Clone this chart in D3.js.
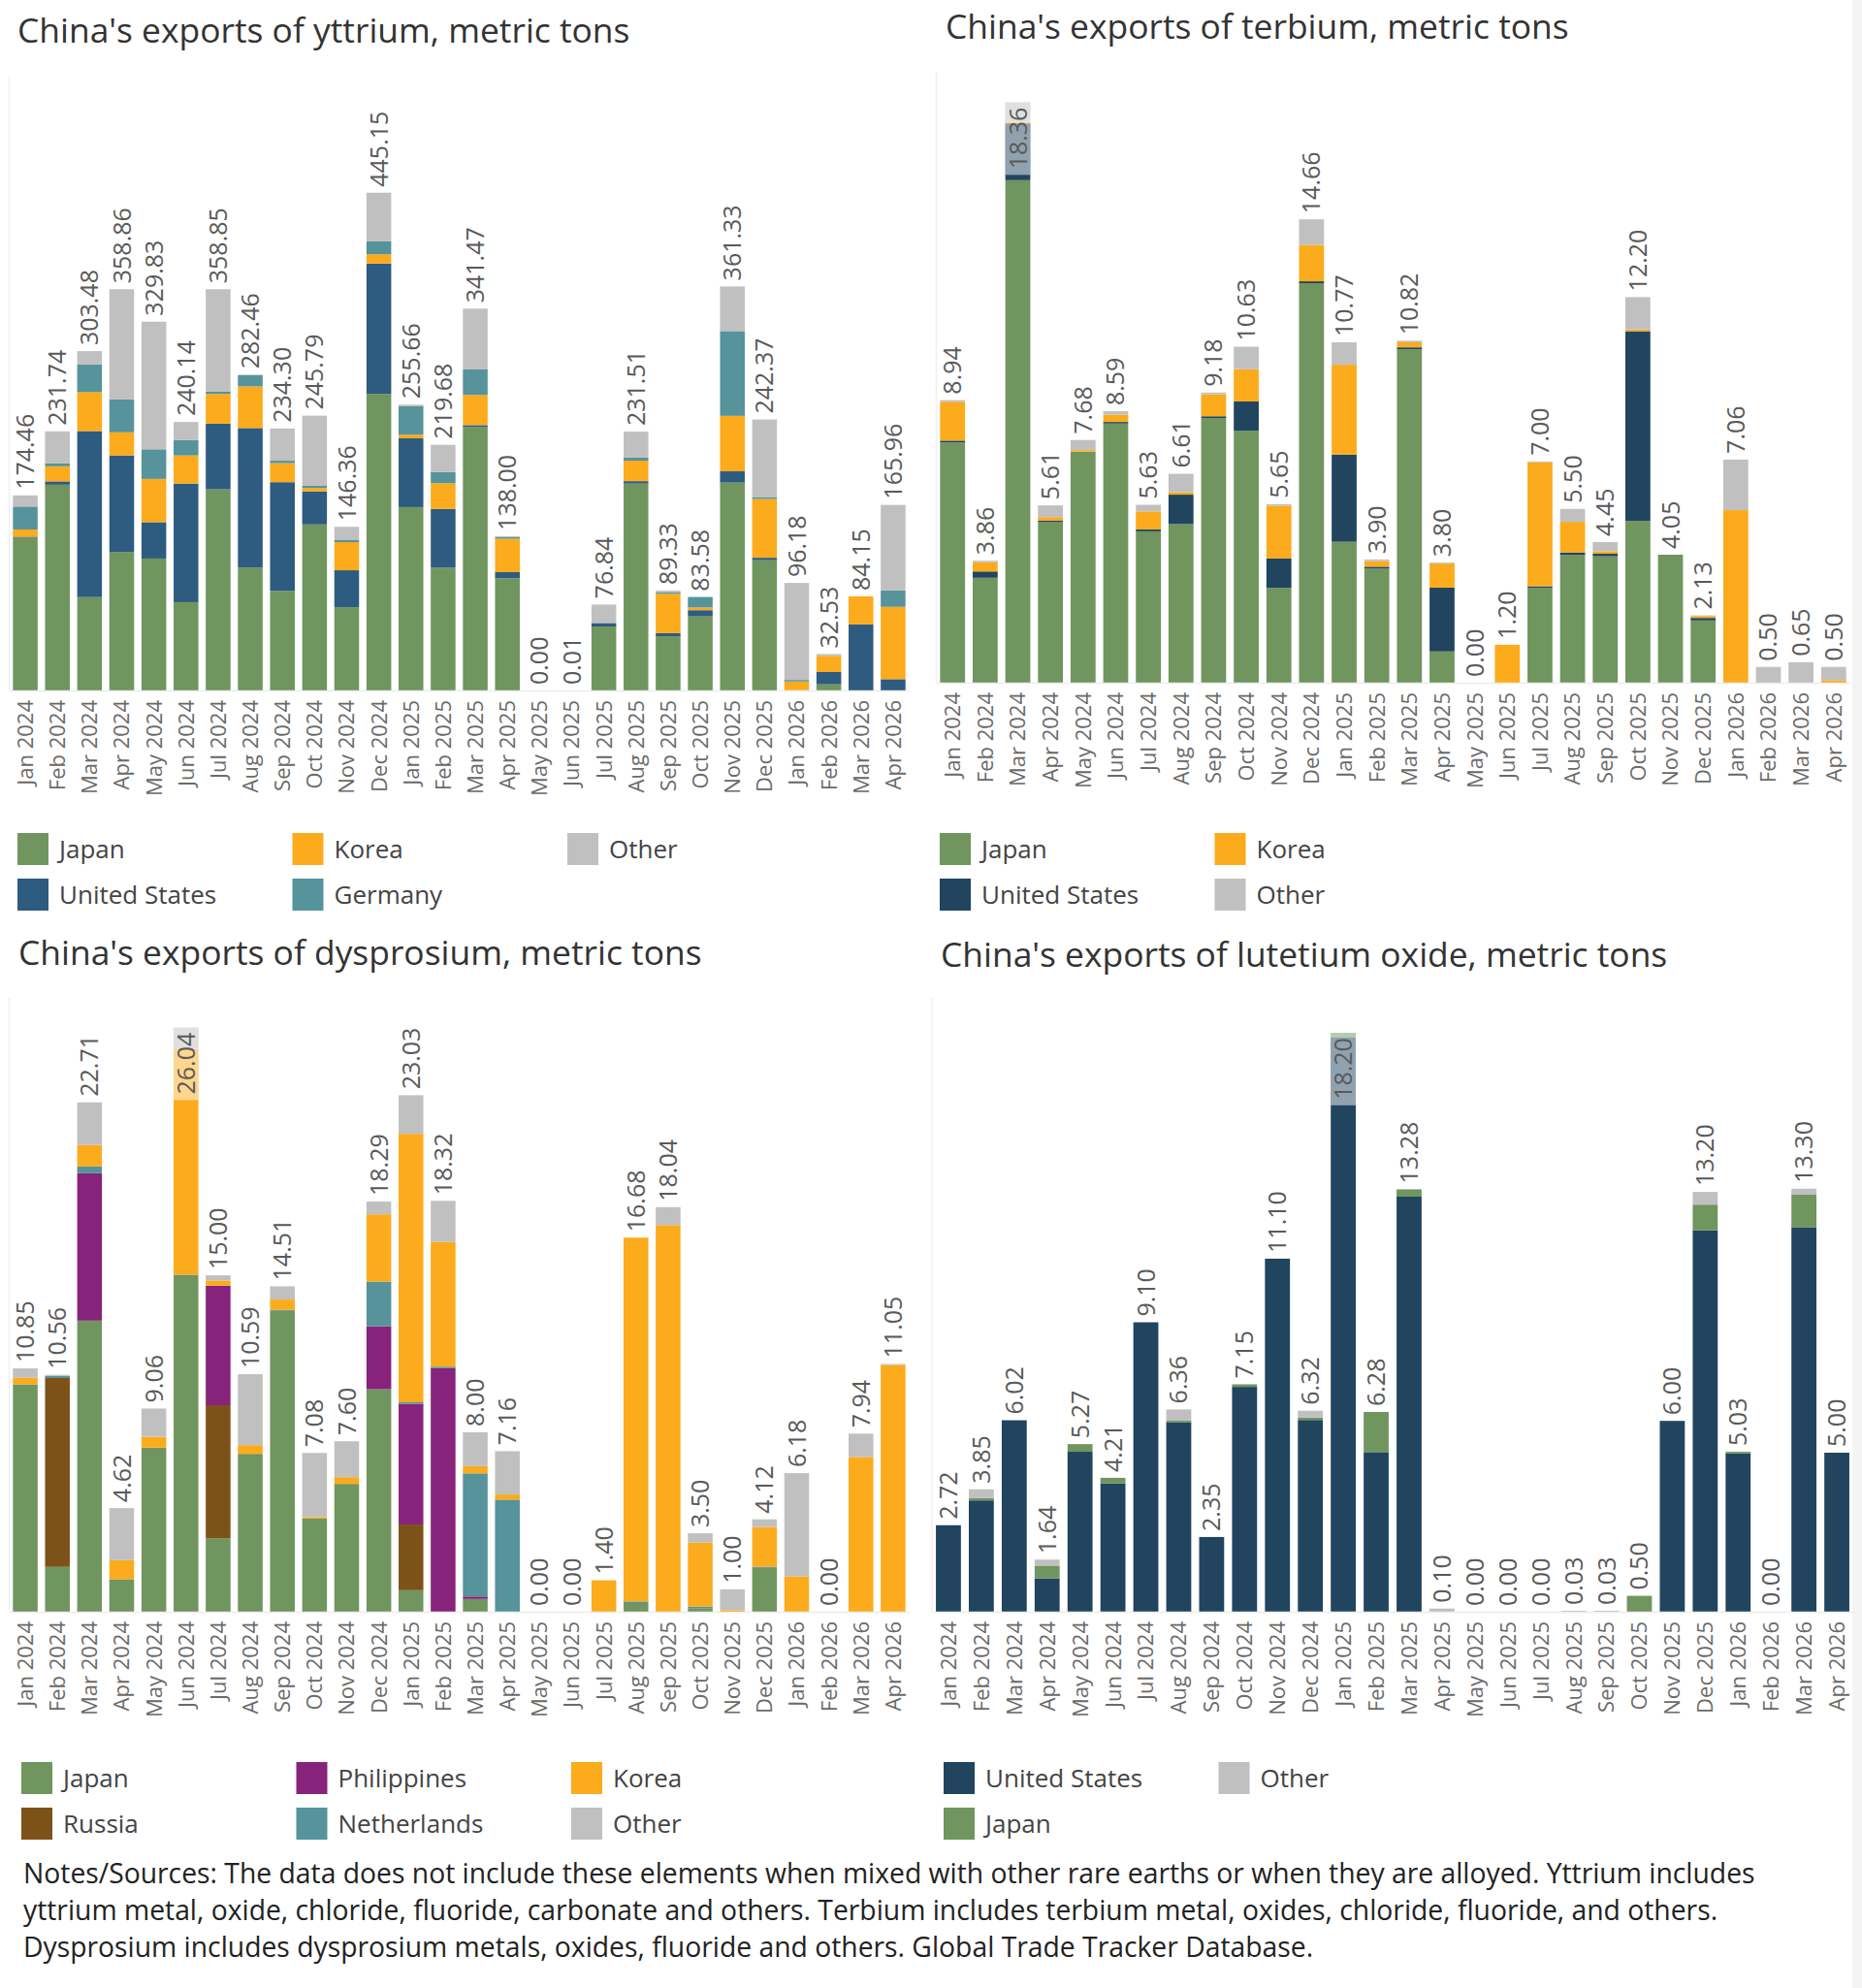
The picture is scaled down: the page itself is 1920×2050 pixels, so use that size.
<!DOCTYPE html>
<html><head><meta charset="utf-8">
<script src="https://cdn.jsdelivr.net/npm/d3@7"></script>
<style>
html,body{margin:0;padding:0;background:#fff;}
svg{display:block;font-family:"Open Sans",sans-serif;}
</style></head><body>
<svg id="c" width="1920" height="2050"></svg>
<script>
// ---------- DATA ----------
const months = ["Jan 2024","Feb 2024","Mar 2024","Apr 2024","May 2024","Jun 2024","Jul 2024","Aug 2024","Sep 2024","Oct 2024","Nov 2024","Dec 2024","Jan 2025","Feb 2025","Mar 2025","Apr 2025","May 2025","Jun 2025","Jul 2025","Aug 2025","Sep 2025","Oct 2025","Nov 2025","Dec 2025","Jan 2026","Feb 2026","Mar 2026","Apr 2026"];

// Yttrium
const yttriumJapan   = [137,184,83.5,123.9,118,79,179.9,110,89,148.5,74.5,265.2,164,109.8,235.5,100.3,0,0,57.2,185,48.5,66.3,185.9,116.5,0.2,5.5,0,0];
const yttriumUS      = [0.5,3,148.5,86.3,32.5,106,58.7,124.7,97.3,29.6,33,116.6,61.5,52.6,1.8,5.5,0,0,3,2.2,2.8,5.5,10.1,2.2,0,11,59.2,10.1];
const yttriumKorea   = [6.5,13.5,34.8,20.7,38.7,25.2,26.6,37.2,17,3.1,25.2,8.3,3.2,22.9,27,29.9,0,0,0,18.3,35.2,2.4,49.6,52.5,7.8,14.5,24.95,64.7];
const yttriumGermany = [20.5,2.5,24.8,29.4,26.5,13.8,2.3,10.1,2.2,2.2,2.2,11.5,25.5,10.1,22.8,1.4,0,0,0.3,2.7,1.4,9.38,75.8,1.4,1.4,0,0,14.7];
const yttriumOther   = [9.96,28.74,11.88,98.56,114.13,16.14,91.35,0.46,28.8,62.39,11.46,43.55,1.46,24.28,54.37,0.9,0,0.01,16.34,23.31,1.43,0,39.93,69.77,86.78,1.53,0,76.46];
const yttriumTotals  = [174.46,231.74,303.48,358.86,329.83,240.14,358.85,282.46,234.30,245.79,146.36,445.15,255.66,219.68,341.47,138.00,0.00,0.01,76.84,231.51,89.33,83.58,361.33,242.37,96.18,32.53,84.15,165.96];

// Terbium
const terbiumJapan = [7.6,3.32,15.9,5.08,7.31,8.2,4.79,5.02,8.37,7.97,3.0,12.64,4.46,3.61,10.55,0.99,0,0,3.0,4.04,4.0,5.12,4.05,1.97,0,0,0,0];
const terbiumUS    = [0.06,0.2,1.8,0.05,0,0.05,0.06,0.93,0.06,0.93,0.93,0.06,2.76,0.06,0.06,2.02,0,0,0.05,0.08,0.08,6.0,0,0.08,0,0,0,0];
const terbiumKorea = [1.23,0.29,0.05,0.11,0.05,0.23,0.57,0.08,0.7,1.02,1.67,1.15,2.84,0.18,0.16,0.76,0,1.2,3.92,0.97,0.08,0.06,0,0.06,5.46,0,0,0.08];
const terbiumOther = [0.05,0.05,0.61,0.37,0.32,0.11,0.21,0.58,0.05,0.71,0.05,0.81,0.71,0.05,0.05,0.03,0,0,0.03,0.41,0.29,1.02,0,0.02,1.6,0.5,0.65,0.42];
const terbiumTotals = [8.94,3.86,18.36,5.61,7.68,8.59,5.63,6.61,9.18,10.63,5.65,14.66,10.77,3.90,10.82,3.80,0.00,1.20,7.00,5.50,4.45,12.20,4.05,2.13,7.06,0.50,0.65,0.50];

// Dysprosium
const dysJapan       = [10.14,2.0,12.98,1.45,7.32,14.96,3.28,7.04,13.41,4.15,5.7,9.92,0.96,0,0.57,0,0,0,0,0.39,0,0.16,0,1.95,0,0,0,0];
const dysRussia      = [0,8.42,0,0,0,0,5.93,0,0,0,0,0,2.93,0,0,0,0,0,0,0,0,0,0,0,0,0,0,0];
const dysPhilippines = [0,0,6.57,0,0,0,5.33,0,0,0,0,2.81,5.38,10.86,0.11,0,0,0,0,0,0,0,0,0,0,0,0,0];
const dysNetherlands = [0,0.09,0.3,0,0,0.05,0,0,0.05,0,0,1.99,0.07,0.07,5.49,5.0,0,0,0,0.07,0,0.07,0,0.05,0,0,0,0];
const dysKorea       = [0.3,0,0.96,0.85,0.48,10.07,0.23,0.39,0.46,0.07,0.3,3.0,11.97,5.56,0.32,0.23,0,0,1.4,16.22,17.24,2.86,0.07,1.78,1.58,0,6.9,11.0];
const dysOther       = [0.41,0.05,1.9,2.32,1.26,0.96,0.23,3.16,0.59,2.86,1.6,0.57,1.72,1.83,1.51,1.93,0,0,0,0,0.8,0.41,0.93,0.34,4.6,0,1.04,0.05];
const dysTotals      = [10.85,10.56,22.71,4.62,9.06,26.04,15.00,10.59,14.51,7.08,7.60,18.29,23.03,18.32,8.00,7.16,0.00,0.00,1.40,16.68,18.04,3.50,1.00,4.12,6.18,0.00,7.94,11.05];

// Lutetium oxide
const lutUS    = [2.72,3.5,6.02,1.05,5.03,4.03,9.1,5.96,2.35,7.07,11.1,6.03,18.07,5.02,13.05,0,0,0,0,0,0,0,6.0,11.99,4.98,0,12.09,5.0];
const lutJapan = [0,0.08,0,0.4,0.24,0.18,0,0.06,0,0.08,0,0.08,0.13,1.26,0.23,0,0,0,0,0,0,0.5,0,0.81,0.05,0,1.02,0];
const lutOther = [0,0.27,0,0.19,0,0,0,0.34,0,0,0,0.21,0,0,0,0.1,0,0,0,0.03,0.03,0,0,0.4,0,0,0.19,0];
const lutTotals = [2.72,3.85,6.02,1.64,5.27,4.21,9.10,6.36,2.35,7.15,11.10,6.32,18.20,6.28,13.28,0.10,0.00,0.00,0.00,0.03,0.03,0.50,6.00,13.20,5.03,0.00,13.30,5.00];

const titles = [
  "China's exports of yttrium, metric tons",
  "China's exports of terbium, metric tons",
  "China's exports of dysprosium, metric tons",
  "China's exports of lutetium oxide, metric tons"
];
const notesLines = [
  "Notes/Sources: The data does not include these elements when mixed with other rare earths or when they are alloyed. Yttrium includes",
  "yttrium metal, oxide, chloride, fluoride, carbonate and others. Terbium includes terbium metal, oxides, chloride, fluoride, and others.",
  "Dysprosium includes dysprosium metals, oxides, fluoride and others. Global Trade Tracker Database."
];

// ---------- STYLE / LAYOUT ----------
const C = {
  japan:"#70955f", usLight:"#2e5b80", usDark:"#21445f", korea:"#fbab1c",
  teal:"#56939b", other:"#c0c0c0", phil:"#87237a", russia:"#7d5219"
};

const panels = [
  { title:titles[0], tx:18, ty:44, xr:[9.5,937.5], pad:0.23, base:712, top:79, ymax:549, totals:yttriumTotals,
    legX:18, legY:859,
    series:[{name:"Japan",v:yttriumJapan,c:C.japan},{name:"United States",v:yttriumUS,c:C.usLight},
            {name:"Korea",v:yttriumKorea,c:C.korea},{name:"Germany",v:yttriumGermany,c:C.teal},
            {name:"Other",v:yttriumOther,c:C.other}] },
  { title:titles[1], tx:975, ty:40, xr:[965.4,1907.6], pad:0.235, base:704, top:74, ymax:19.33, totals:terbiumTotals,
    legX:969, legY:859,
    series:[{name:"Japan",v:terbiumJapan,c:C.japan},{name:"United States",v:terbiumUS,c:C.usDark},
            {name:"Korea",v:terbiumKorea,c:C.korea},{name:"Other",v:terbiumOther,c:C.other}] },
  { title:titles[2], tx:19, ty:995, xr:[9.5,937.5], pad:0.23, base:1662, top:1029, ymax:27.37, totals:dysTotals,
    legX:22, legY:1817,
    series:[{name:"Japan",v:dysJapan,c:C.japan},{name:"Russia",v:dysRussia,c:C.russia},
            {name:"Philippines",v:dysPhilippines,c:C.phil},{name:"Netherlands",v:dysNetherlands,c:C.teal},
            {name:"Korea",v:dysKorea,c:C.korea},{name:"Other",v:dysOther,c:C.other}] },
  { title:titles[3], tx:970, ty:997, xr:[961,1911], pad:0.24, base:1662, top:1029, ymax:19.3, totals:lutTotals,
    legX:973, legY:1817,
    series:[{name:"United States",v:lutUS,c:C.usDark},{name:"Japan",v:lutJapan,c:C.japan},
            {name:"Other",v:lutOther,c:C.other}] }
];

const svg = d3.select("#c");
svg.append("rect").attr("x",1910).attr("y",0).attr("width",10).attr("height",2050).attr("fill","#f4f4f4");

panels.forEach((p, pi) => {
  const g = svg.append("g");
  const keys = p.series.map(s => s.name);
  const rows = months.map((m, i) => { const o = {month:m}; p.series.forEach(s => o[s.name] = s.v[i]); return o; });
  const stacked = d3.stack().keys(keys)(rows);
  const x = d3.scaleBand().domain(months).range(p.xr).paddingInner(p.pad).paddingOuter(p.pad/2);
  const y = d3.scaleLinear().domain([0, p.ymax]).range([p.base, p.top]);
  const color = d3.scaleOrdinal().domain(keys).range(p.series.map(s => s.c));

  // title
  g.append("text").attr("x", p.tx).attr("y", p.ty).attr("font-size", 35.4).attr("fill", "#333").text(p.title);

  // faint left border
  g.append("line").attr("x1", p.xr[0]).attr("x2", p.xr[0]).attr("y1", p.top).attr("y2", p.base)
    .attr("stroke", "#f0f0f0").attr("stroke-width", 1.5);

  // bars
  stacked.forEach(layer => {
    g.append("g").selectAll("rect").data(layer).join("rect")
      .attr("x", d => x(d.data.month)).attr("width", x.bandwidth())
      .attr("y", d => y(d[1])).attr("height", d => Math.max(0, y(d[0]) - y(d[1])))
      .attr("fill", color(layer.key));
  });

  // x axis
  const ax = g.append("g").attr("transform", `translate(0,${p.base})`)
    .call(d3.axisBottom(x).tickSize(0).tickSizeOuter(0));
  ax.select(".domain").attr("stroke", "#ececec").attr("stroke-width", 1.5);
  ax.selectAll(".tick text")
    .attr("font-family", "Open Sans").attr("font-size", 22).attr("fill", "#6a6a6a")
    .attr("x", -10).attr("y", 0).attr("dy", "0.36em")
    .attr("transform", "rotate(-90)").style("text-anchor", "end");

  // value labels
  const last = stacked[stacked.length - 1];
  const lab = g.append("g");
  months.forEach((m, i) => {
    const topY = y(last[i][1]);
    const cx = x(m) + x.bandwidth() / 2;
    const txt = p.totals[i].toFixed(2);
    const t = lab.append("text").attr("font-size", 25).attr("fill", "#5a5a5a").text(txt);
    const len = t.node().getComputedTextLength();
    if (topY - 6 - len < p.top) {
      lab.insert("rect", "text").attr("x", x(m)).attr("width", x.bandwidth())
        .attr("y", topY).attr("height", len + 11)
        .attr("fill", "#fff").attr("fill-opacity", 0.5);
      t.attr("transform", `translate(${cx},${topY + 5}) rotate(-90)`).attr("dy", "0.36em").attr("text-anchor", "end");
      t.raise();
    } else {
      t.attr("transform", `translate(${cx},${topY - 6}) rotate(-90)`).attr("dy", "0.36em").attr("text-anchor", "start");
    }
  });

  // legend (column-major, 2 rows)
  const leg = g.append("g");
  p.series.forEach((s, i) => {
    const col = Math.floor(i / 2), row = i % 2;
    const lx = p.legX + col * 283.5, ly = p.legY + row * 47;
    leg.append("rect").attr("x", lx).attr("y", ly).attr("width", 32).attr("height", 33).attr("fill", s.c);
    leg.append("text").attr("x", lx + 43).attr("y", ly + 16.5).attr("dy", "0.36em")
      .attr("font-size", 26).attr("fill", "#444").text(s.name);
  });
});

// notes
const notes = svg.append("g");
notesLines.forEach((l, i) => {
  notes.append("text").attr("x", 24).attr("y", 1942 + i * 38).attr("font-size", 28.3).attr("fill", "#222").text(l);
});
</script>
</body></html>
